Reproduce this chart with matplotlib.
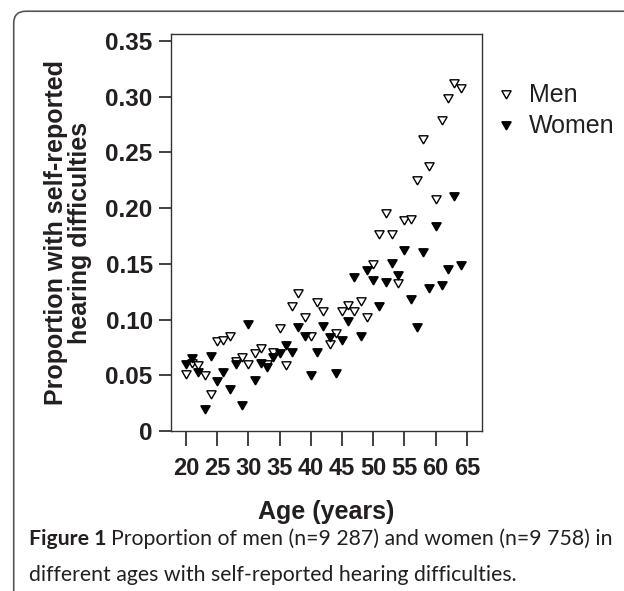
import matplotlib
matplotlib.use('Agg')
import matplotlib.pyplot as plt
from matplotlib.patches import FancyBboxPatch

# Edades y proporciones
edades = list(range(20, 65))

hombres = [0.052, 0.062, 0.060, 0.051, 0.034, 0.082, 0.083, 0.086, 0.064, 0.067,
           0.061, 0.071, 0.075, 0.061, 0.072, 0.093, 0.060, 0.113, 0.125, 0.103,
           0.086, 0.117, 0.109, 0.079, 0.089, 0.109, 0.114, 0.109, 0.118, 0.103,
           0.151, 0.178, 0.197, 0.178, 0.134, 0.190, 0.191, 0.226, 0.263, 0.239,
           0.209, 0.280, 0.300, 0.313, 0.309]

mujeres = [0.061, 0.066, 0.054, 0.021, 0.068, 0.046, 0.054, 0.039, 0.061, 0.024,
           0.097, 0.047, 0.062, 0.058, 0.067, 0.071, 0.078, 0.072, 0.094, 0.086,
           0.051, 0.072, 0.095, 0.085, 0.053, 0.083, 0.100, 0.139, 0.086, 0.145,
           0.136, 0.113, 0.135, 0.152, 0.141, 0.163, 0.119, 0.094, 0.162, 0.129,
           0.185, 0.132, 0.146, 0.212, 0.150]

xticks = [20, 25, 30, 35, 40, 45, 50, 55, 60, 65]
yticks = [0, 0.05, 0.10, 0.15, 0.20, 0.25, 0.30, 0.35]
yticklabels = ['0', '0.05', '0.10', '0.15', '0.20', '0.25', '0.30', '0.35']

fuente = 'Liberation Sans'
oscuro = '#231f20'

fig = plt.figure(figsize=(6.24, 5.91), dpi=100)

# Marco redondeado alrededor de la figura
marco = FancyBboxPatch((0.022, -0.05), 1.1, 1.031,
                       boxstyle='round,pad=0,rounding_size=0.02',
                       transform=fig.transFigure, fill=False,
                       edgecolor='#555555', linewidth=1.2)
fig.patches.append(marco)

ax = fig.add_axes([0.2736, 0.2707, 0.4989, 0.6712])

triangulo = (3, 0, 180)
ax.plot(edades, hombres, linestyle='none', marker=triangulo, markersize=7.8,
        markerfacecolor='white', markeredgecolor='black', markeredgewidth=1.0,
        label='Men')
ax.plot(edades, mujeres, linestyle='none', marker=triangulo, markersize=7.8,
        markerfacecolor='black', markeredgecolor='black', markeredgewidth=1.0,
        label='Women')

# Ejes
ax.set_xlim(17.55, 67.45)
ax.set_ylim(0, 0.356)
ax.set_xticks(xticks)
ax.set_xticklabels([str(t) for t in xticks], fontfamily=fuente,
                   fontweight='bold', fontsize=17)
ax.set_yticks(yticks)
ax.set_yticklabels(yticklabels, fontfamily=fuente, fontweight='bold',
                   fontsize=17.5)
ax.tick_params(axis='x', direction='out', length=11, width=1.2, pad=8,
               colors=oscuro)
ax.tick_params(axis='y', direction='out', length=9, width=1.2, pad=4,
               colors=oscuro)
for s in ax.spines.values():
    s.set_linewidth(1.0)
    s.set_color('#333333')

ax.set_xlabel('Age (years)', fontfamily=fuente, fontweight='bold',
              fontsize=18, color=oscuro, labelpad=14)
ax.set_ylabel('Proportion with self-reported\nhearing difficulties',
              fontfamily=fuente, fontweight='bold', fontsize=18,
              color=oscuro, linespacing=0.95, labelpad=10)

# Leyenda
leg = ax.legend(loc='upper left', bbox_to_anchor=(0.787, 0.868),
                bbox_transform=fig.transFigure, frameon=False,
                handlelength=0.8, handletextpad=0.5, labelspacing=0.28,
                borderpad=0.2, borderaxespad=0,
                prop={'family': fuente, 'size': 18})
for t in leg.get_texts():
    t.set_color(oscuro)

# Pie de figura
r = fig.canvas.get_renderer()
t1 = fig.text(0.046, 0.078, 'Figure 1', fontfamily='Lato', fontweight='bold',
              fontsize=15.3, color=oscuro, va='baseline')
bb = t1.get_window_extent(renderer=r)
x2 = (bb.x1 + 5) / fig.bbox.width
fig.text(x2, 0.078, 'Proportion of men (n=9 287) and women (n=9 758) in',
         fontfamily='Lato', fontsize=15.3, color=oscuro, va='baseline')
fig.text(0.046, 0.017, 'different ages with self-reported hearing difficulties.',
         fontfamily='Lato', fontsize=15.3, color=oscuro, va='baseline')

fig.savefig('out.png', dpi=100)
